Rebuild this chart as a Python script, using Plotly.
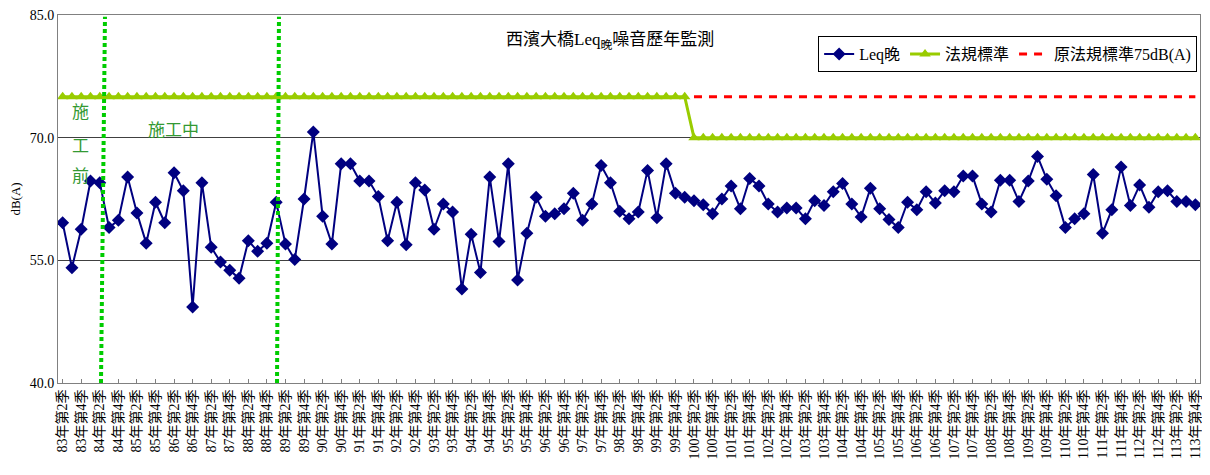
import plotly.graph_objects as go

# quarters 83年第2季 .. 113年第4季
quarters = [f'{y}年第{q}季' for y in range(83, 114) for q in range(1, 5)][1:]

leq_night = [
    59.6, 54.1, 58.8, 64.7, 64.5, 59.0, 59.9, 65.2, 60.8, 57.1,
    62.1, 59.6, 65.7, 63.5, 49.3, 64.5, 56.6, 54.8, 53.8, 52.8,
    57.4, 56.1, 57.1, 62.1, 57.0, 55.1, 62.5, 70.7, 60.4, 57.0,
    66.8, 66.8, 64.7, 64.7, 62.8, 57.4, 62.1, 56.9, 64.5, 63.6,
    58.8, 61.9, 60.9, 51.5, 58.2, 53.5, 65.2, 57.3, 66.8, 52.6,
    58.3, 62.7, 60.4, 60.7, 61.3, 63.2, 59.9, 61.9, 66.6, 64.5,
    61.0, 60.1, 60.9, 66.0, 60.2, 66.8, 63.2, 62.7, 62.3, 61.8,
    60.7, 62.5, 64.1, 61.3, 65.0, 64.1, 61.9, 60.9, 61.4, 61.4,
    60.1, 62.3, 61.7, 63.4, 64.4, 61.9, 60.3, 63.8, 61.3, 60.0,
    59.0, 62.1, 61.2, 63.4, 62.0, 63.5, 63.4, 65.3, 65.3, 61.9,
    60.9, 64.8, 64.8, 62.2, 64.7, 67.7, 64.9, 62.9, 59.0, 60.1,
    60.7, 65.5, 58.3, 61.2, 66.4, 61.7, 64.2, 61.5, 63.4, 63.5,
    62.2, 62.2, 61.8,
]

# regulation standard: 75 up to 100年第1季, 70 afterwards
standard = [
    75, 75, 75, 75, 75, 75, 75, 75, 75, 75,
    75, 75, 75, 75, 75, 75, 75, 75, 75, 75,
    75, 75, 75, 75, 75, 75, 75, 75, 75, 75,
    75, 75, 75, 75, 75, 75, 75, 75, 75, 75,
    75, 75, 75, 75, 75, 75, 75, 75, 75, 75,
    75, 75, 75, 75, 75, 75, 75, 75, 75, 75,
    75, 75, 75, 75, 75, 75, 75, 75, 70, 70,
    70, 70, 70, 70, 70, 70, 70, 70, 70, 70,
    70, 70, 70, 70, 70, 70, 70, 70, 70, 70,
    70, 70, 70, 70, 70, 70, 70, 70, 70, 70,
    70, 70, 70, 70, 70, 70, 70, 70, 70, 70,
    70, 70, 70, 70, 70, 70, 70, 70, 70, 70,
    70, 70, 70,
]

# old 75dB(A) standard, shown only once the new one applies
old_standard = [None if s == 75 else 75 for s in standard]

y_ticks = [40, 55, 70, 85]

SERIF = 'Liberation Serif, Noto Sans CJK TC, serif'

fig = go.Figure()

fig.add_trace(go.Scatter(
    x=quarters, y=leq_night, name='Leq晚', mode='lines+markers',
    line=dict(color='#000080', width=2),
    marker=dict(symbol='diamond', size=10, color='#000080'),
))
fig.add_trace(go.Scatter(
    x=quarters, y=standard, name='法規標準', mode='lines+markers',
    line=dict(color='#99CC00', width=3),
    marker=dict(symbol='triangle-up', size=10, color='#99CC00'),
))
fig.add_trace(go.Scatter(
    x=quarters, y=old_standard, name='原法規標準75dB(A)', mode='lines',
    line=dict(color='#FF0000', width=3, dash='8px,7px'),
))

# construction phase markers (84年第2季 and 89年第1季)
for x_bottom, x_top in [(4.13, 4.56), (23.09, 23.3)]:
    fig.add_shape(type='line', xref='x', yref='paper',
                  x0=x_bottom, x1=x_top, y0=0, y1=0.995,
                  line=dict(color='#00CC00', width=4, dash='4px,3px'))

# phase labels
for ch, yv in zip('施工前', [73.1, 68.9, 65.2]):
    fig.add_annotation(x=1.87, y=yv, xref='x', yref='y', text=ch, showarrow=False,
                       font=dict(family=SERIF, size=17, color='#339933'))
fig.add_annotation(x=11.9, y=70.9, xref='x', yref='y', text='施工中', showarrow=False,
                   font=dict(family=SERIF, size=17, color='#339933'))

# title
fig.add_annotation(x=0.483, y=0.965, xref='paper', yref='paper', showarrow=False,
                   text='西濱大橋Leq<sub>晚</sub>噪音歷年監測',
                   font=dict(family=SERIF, size=17, color='black'))

# page body adds an 8px offset, so the figure is sized/margined to compensate
fig.update_layout(
    width=1202, height=467,
    margin=dict(l=50, r=10, t=7, b=92, autoexpand=False),
    paper_bgcolor='white', plot_bgcolor='white',
    font=dict(family=SERIF, color='black'),
    showlegend=True,
    legend=dict(orientation='h', x=0.9975, xanchor='right', y=0.894, yanchor='middle',
                bordercolor='black', borderwidth=1, bgcolor='white',
                font=dict(family=SERIF, size=16)),
)

fig.update_xaxes(
    type='category', range=[-0.5, len(quarters) - 0.5], automargin=False,
    tickmode='array', tickvals=quarters[::2], ticktext=quarters[::2],
    tickangle=-90, tickfont=dict(family=SERIF, size=14),
    ticks='inside', ticklen=4, tickcolor='#808080',
    showline=True, linecolor='#808080', mirror=True, showgrid=False,
)
fig.update_yaxes(
    range=[40, 85], tickvals=y_ticks, tickformat='.1f', automargin=False,
    tickfont=dict(family=SERIF, size=14), ticklabeloverflow='allow',
    title=dict(text='dB(A)', font=dict(family=SERIF, size=13), standoff=10),
    showline=True, linecolor='#808080', mirror=True,
    showgrid=True, gridcolor='#404040', gridwidth=1, zeroline=False,
)

fig.write_html('out.html')
